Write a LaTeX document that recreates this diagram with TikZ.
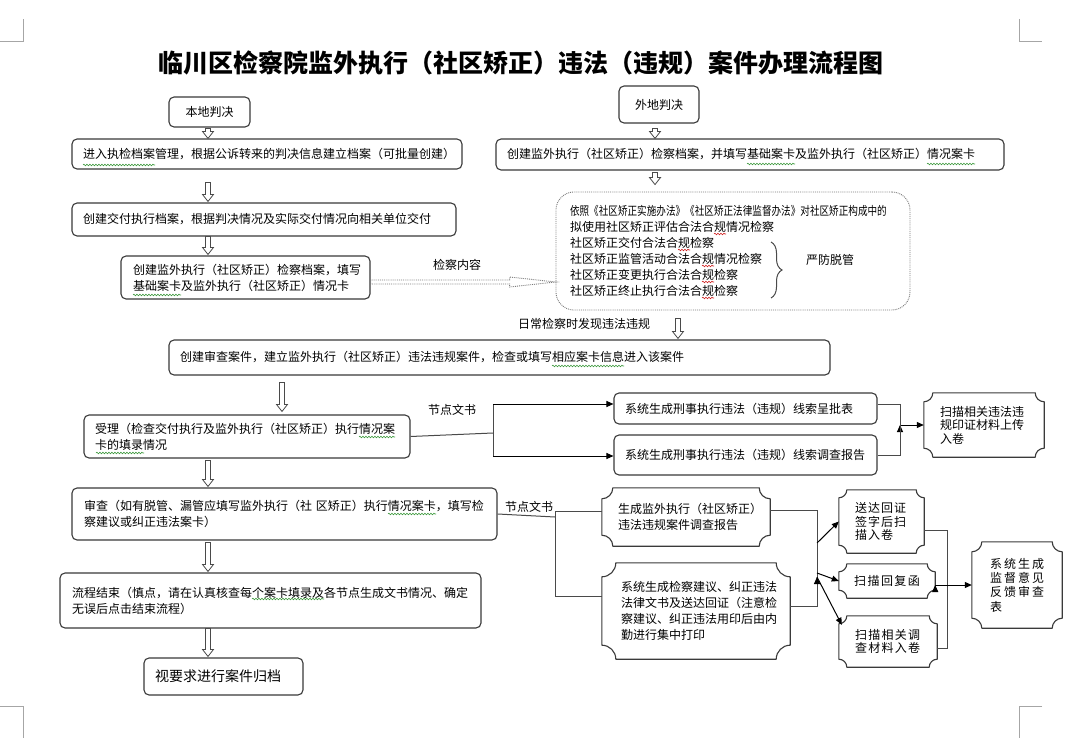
\documentclass[tikz,border=0pt]{standalone}
\usepackage{fontspec}
\setmainfont{Noto Sans CJK SC}
\usepackage{xcolor}
\usepackage{graphicx}
\usepackage{tikz}
\usetikzlibrary{arrows.meta,calc,decorations.pathreplacing,decorations.pathmorphing}

\definecolor{boxgray}{HTML}{3A3A3A}
\definecolor{linegray}{HTML}{4A4A4A}
\definecolor{markgray}{HTML}{A6A6A6}
\definecolor{dotgray}{HTML}{7A7A7A}
\definecolor{spellgreen}{HTML}{3E9A3E}
\definecolor{spellred}{HTML}{D02020}

\newcommand{\boxfont}{\fontsize{12}{16}\selectfont}
\newcommand{\tightfont}{\fontsize{12}{13.5}\selectfont}

% concave corners round a node: name, corner radius
\newcommand{\plaque}[2]{%
  \draw[plaqueline]
    ($(#1.north west)+(#2,0)$) -- ($(#1.north east)+(-#2,0)$)
    .. controls +(0,0.552*#2) and +(-0.552*#2,0) .. ($(#1.north east)+(0,#2)$)
    -- ($(#1.south east)+(0,-#2)$)
    .. controls +(-0.552*#2,0) and +(0,-0.552*#2) .. ($(#1.south east)+(-#2,0)$)
    -- ($(#1.south west)+(#2,0)$)
    .. controls +(0,-0.552*#2) and +(0.552*#2,0) .. ($(#1.south west)+(0,-#2)$)
    -- ($(#1.north west)+(0,#2)$)
    .. controls +(0.552*#2,0) and +(0,0.552*#2) .. ($(#1.north west)+(#2,0)$)
    -- cycle;}

% hollow down arrow: x, from, to, gap at top, gap at bottom
\newcommand{\blockdown}[5]{%
  \draw[hollow] let \p1=(#2.south), \p2=(#3.north) in
    (#1pt-2.5pt,\y1-#4pt) -- (#1pt-2.5pt,\y2+#5pt+7pt) -- (#1pt-5.5pt,\y2+#5pt+7pt)
    -- (#1pt,\y2+#5pt) -- (#1pt+5.5pt,\y2+#5pt+7pt) -- (#1pt+2.5pt,\y2+#5pt+7pt)
    -- (#1pt+2.5pt,\y1-#4pt) -- cycle;}

\begin{document}
\begin{tikzpicture}[x=1pt,y=-1pt,>={Triangle[length=7pt,width=6pt]},
  box/.style={draw=boxgray,line width=1.1pt,rounded corners=5pt,inner sep=0pt,align=left,font=\boxfont},
  plaque/.style={inner sep=0pt,align=left,font=\boxfont},
  dotbox/.style={draw=dotgray,densely dotted,line width=0.9pt,rounded corners=18pt,inner sep=0pt,align=left,font=\boxfont},
  lbl/.style={inner sep=0pt,font=\boxfont},
  hollow/.style={draw=linegray,line width=0.8pt,fill=white},
  thinline/.style={draw=linegray,line width=1pt},
  thinarrow/.style={->,draw=black,line width=1pt},
  plaqueline/.style={draw=boxgray,line width=1.1pt,line join=round},
  cornermark/.style={draw=markgray,line width=1pt},
  wavy/.style={line width=0.6pt,decorate,decoration={snake,amplitude=0.8pt,segment length=3pt}}]

    \fill[white] (0,0) rectangle (1076,738);
    \useasboundingbox (0,0) rectangle (1076,738);

    % page corners
    \draw[cornermark] (0,42) -- (23,42) -- (23,19);
    \draw[cornermark] (1019,19) -- (1019,42) -- (1042,42);
    \draw[cornermark] (0,706) -- (23,706) -- (23,738);
    \draw[cornermark] (1042,706) -- (1019,706) -- (1019,738);

    \node [font=\fontsize{25}{30}\selectfont\bfseries] at (521,63) (title) {临川区检察院监外执行（社区矫正）违法（违规）案件办理流程图};

    % The boxes, left column
    \node [box,minimum width=81pt,minimum height=30pt,align=center] at (209.5,112) (bd) {本地判决};
    \node [box,minimum width=390pt,minimum height=30pt,text width=368pt] at (267,154) (n1) {进入执检档案管理，根据公诉转来的判决信息建立档案（可批量创建）};
    \node [box,minimum width=384pt,minimum height=33pt,text width=362pt] at (264,219.5) (n2) {创建交付执行档案，根据判决情况及实际交付情况向相关单位交付};
    \node [box,minimum width=249pt,minimum height=43pt,text width=225pt] at (245.5,277.5) (n3) {创建监外执行（社区矫正）检察档案，填写\\基础案卡及监外执行（社区矫正）情况卡};

    % right column
    \node [box,minimum width=80pt,minimum height=37pt,align=center] at (659,104.5) (wd) {外地判决};
    \node [box,minimum width=508pt,minimum height=31pt,text width=486pt] at (750,154.5) (m1) {创建监外执行（社区矫正）检察档案，并填写基础案卡及监外执行（社区矫正）情况案卡};
    \node [dotbox,minimum width=354pt,minimum height=118pt,text width=326pt] at (733,251) (chk) {\scalebox{0.8}[1]{依照《社区矫正实施办法》《社区矫正法律监督办法》对社区矫正构成中的}\\
      拟使用社区矫正评估合法合规情况检察\\
      社区矫正交付合法合规检察\\
      社区矫正监管活动合法合规情况检察\\
      社区矫正变更执行合法合规检察\\
      社区矫正终止执行合法合规检察};
    \node [lbl] at (830,260) (guard) {严防脱管};
    \draw[linegray,line width=1pt,decorate,decoration={brace,amplitude=11pt}] (771,242) -- (771,298);

    \node [lbl] at (457,265) (cnt) {检察内容};
    \node [lbl] at (584,324) (daily) {日常检察时发现违法违规};

    % the case
    \node [box,minimum width=661pt,minimum height=35pt,text width=639pt] at (499.5,357.5) (n4) {创建审查案件，建立监外执行（社区矫正）违法违规案件，检查或填写相应案卡信息进入该案件};
    \node [box,minimum width=326pt,minimum height=43pt,text width=304pt] at (247,436.5) (n5) {受理（检查交付执行及监外执行（社区矫正）执行情况案\\卡的填录情况};
    \node [lbl] at (452,410) (doc1) {节点文书};
    \node [box,minimum width=263pt,minimum height=31pt,text width=241pt] at (745.5,408.5) (s1) {系统生成刑事执行违法（违规）线索呈批表};
    \node [box,minimum width=263pt,minimum height=40pt,text width=241pt] at (745.5,455) (s2) {系统生成刑事执行违法（违规）线索调查报告};
    \node [plaque,font=\tightfont,minimum width=120pt,minimum height=64pt,text width=88pt] at (984,425) (s3) {扫描相关违法违\\规印证材料上传\\入卷};

    \node [box,minimum width=425pt,minimum height=52pt,text width=401pt] at (284.5,514) (n6) {审查（如有脱管、漏管应填写监外执行（社 区矫正）执行情况案卡，填写检\\察建议或纠正违法案卡）};
    \node [lbl] at (529,507) (doc2) {节点文书};
    \node [plaque,minimum width=168pt,minimum height=58pt,text width=136pt] at (686,517) (r1) {生成监外执行（社区矫正）\\违法违规案件调查报告};
    \node [plaque,minimum width=188pt,minimum height=96pt,text width=150pt] at (696,611) (r2) {系统生成检察建议、纠正违法\\法律文书及送达回证（注意检\\察建议、纠正违法用印后由内\\勤进行集中打印};
    \node [plaque,font=\tightfont,minimum width=85pt,minimum height=63pt,text width=53pt] at (881.5,521.5) (t1) {送\kern1pt 达\kern1pt 回\kern1pt 证\\签\kern1pt 字\kern1pt 后\kern1pt 扫\\描\kern1pt 入\kern1pt 卷};
    \node [plaque,minimum width=96pt,minimum height=34pt,align=center] at (887,581) (t2) {扫\kern1.4pt 描\kern1.4pt 回\kern1.4pt 复\kern1.4pt 函};
    \node [plaque,font=\tightfont,minimum width=98pt,minimum height=51pt,text width=66pt] at (888,641.5) (t3) {扫\kern1.3pt 描\kern1.3pt 相\kern1.3pt 关\kern1.3pt 调\\查\kern1.3pt 材\kern1.3pt 料\kern1.3pt 入\kern1.3pt 卷};
    \node [plaque,font=\fontsize{12}{14.3}\selectfont,minimum width=90pt,minimum height=86pt,text width=54pt] at (1017,585) (fb) {系\kern2pt 统\kern2pt 生\kern2pt 成\\监\kern2pt 督\kern2pt 意\kern2pt 见\\反\kern2pt 馈\kern2pt 审\kern2pt 查\\表};

    \node [box,minimum width=421pt,minimum height=55pt,text width=397pt] at (270.5,600.5) (n7) {流程结束（慎点，请在认真核查每个案卡填录及各节点生成文书情况、确定\\无误后点击结束流程）};
    \node [box,font=\fontsize{14}{16}\selectfont,minimum width=159pt,minimum height=37pt,text width=137pt] at (223.5,676.5) (n8) {视要求进行案件归档};

    \plaque{s3}{9}
    \plaque{r1}{11}
    \plaque{r2}{14}
    \plaque{t1}{8}
    \plaque{t2}{8}
    \plaque{t3}{8}
    \plaque{fb}{10}

    % spelling marks under the words
    \draw[wavy,spellgreen] (83,165) -- (155,165);
    \draw[wavy,spellgreen] (133,295) -- (181,295);
    \draw[wavy,spellgreen] (747,164) -- (795,164);
    \draw[wavy,spellgreen] (927,164) -- (975,164);
    \draw[wavy,spellgreen] (552,366) -- (624,366);
    \draw[wavy,spellgreen] (359,437) -- (395,437);
    \draw[wavy,spellgreen] (96,453) -- (144,453);
    \draw[wavy,spellgreen] (388,514) -- (436,514);
    \draw[wavy,spellgreen] (252,599) -- (324,599);
    \draw[wavy,spellred] (714,234) -- (726,234);
    \draw[wavy,spellred] (678,250) -- (690,250);
    \draw[wavy,spellred] (702,266) -- (714,266);
    \draw[wavy,spellred] (702,282) -- (714,282);
    \draw[wavy,spellred] (702,298) -- (714,298);

    % hollow arrows
    \blockdown{208}{bd}{n1}{1}{0}
    \blockdown{208}{n1}{n2}{13}{1}
    \blockdown{208}{n2}{n3}{0}{1}
    \blockdown{655}{wd}{m1}{5}{0}
    \blockdown{655}{m1}{chk}{2}{7}
    \blockdown{678}{chk}{n4}{8}{1}
    \blockdown{282}{n4}{n5}{7}{3}
    \blockdown{208}{n5}{n6}{2}{1}
    \blockdown{208}{n6}{n7}{2}{1}
    \blockdown{208}{n7}{n8}{0}{1}

    % dotted arrow to the check contents
    \draw[draw=dotgray,densely dotted,line width=0.9pt] let \p1=(n3.east), \p2=(chk.west) in
      (\x1,-280pt) -- (\x2-46pt,-280pt) -- (\x2-46pt,-277pt) -- (\x2,-282pt)
      -- (\x2-46pt,-287pt) -- (\x2-46pt,-284pt) -- (\x1,-284pt) -- cycle;

    % Graph edges, first node documents
    \coordinate (jm) at (493,433);
    \coordinate (ja) at (493,404);
    \coordinate (jb) at (493,456);
    \coordinate (ka) at (900,404);
    \coordinate (kb) at (900,455);
    \coordinate (kc) at (900,425);
    \draw[thinline] (n5.east) -- (jm);
    \draw[thinline] (ja) -- (jb);
    \path[thinarrow]
    (ja) edge (ja -| s1.west)
    (jb) edge (jb -| s2.west)
    (kc) edge (kc -| s3.west);
    \draw[thinline] (ka -| s1.east) -- (ka) -- (kb) -- (kb -| s2.east);

    % second node documents
    \coordinate (lm) at (555,517);
    \coordinate (la) at (555,511);
    \coordinate (lb) at (555,596);
    \coordinate (ma) at (817,510);
    \coordinate (mb) at (817,606);
    \coordinate (mc) at (817,543);
    \coordinate (md) at (817,573);
    \coordinate (me) at (817,577);
    \coordinate (t3in) at ($(t3.north west)+(3,9)$);
    \draw[thinline] (n6.east) -- (lm);
    \draw[thinline] (la -| r1.west) -- (la) -- (lb) -- (lb -| r2.west);
    \draw[thinline] (ma -| r1.east) -- (ma) -- (mb) -- (mb -| r2.east);
    \path[thinarrow]
    (mc) edge (t1.west)
    (md) edge (t2.west)
    (me) edge (t3in);

    \coordinate (na) at (947,530);
    \coordinate (nb) at (947,648);
    \draw[thinline] (na -| t1.east) -- (na) -- (nb) -- (nb -| t3.east);
    \path[thinarrow] (t2.east |- fb.west) edge (fb.west);

\end{tikzpicture}
\end{document}
